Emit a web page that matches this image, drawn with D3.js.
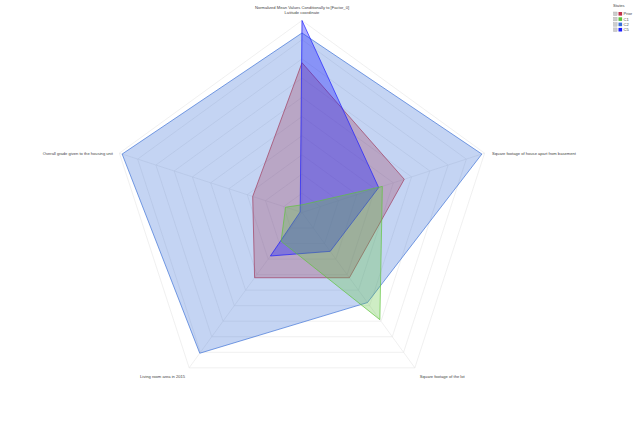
<!DOCTYPE html>
<html lang="en">
<head>
<meta charset="UTF-8">
<title>Radar</title>
<style>
  body { margin: 0; background: #fff; }
  text { font-family: "Liberation Sans", Arial, sans-serif; fill: #444; }
</style>
</head>
<body>
<script src="https://d3js.org/d3.v7.min.js"></script>
<script>
// data
let axes = ["Latitude coordinate", "Square footage of house apart from basement",
            "Square footage of the lot", "Living room area in 2015",
            "Overall grade given to the housing unit"];
let states = ["Prior", "C1", "C2", "C5"];
let prior = [0.78, 0.56, 0.42, 0.42, 0.27];
let c1 = [0.04, 0.44, 0.69, 0.185, 0.09];
let c2 = [0.935, 0.985, 0.58, 0.906, 0.985];
let c5 = [1.0, 0.42, 0.25, 0.28, 0.01];
let colors = ["#a03a5c", "#5ec43a", "#3a6fd6", "#1a1aff"];

let series = [
  { name: "C2", values: c2, color: colors[2], op: 0.3 },
  { name: "Prior", values: prior, color: colors[0], op: 0.3 },
  { name: "C5", values: c5, color: colors[3], op: 0.35 },
  { name: "C1", values: c1, color: colors[1], op: 0.3 }
];

let width = 640, height = 428;
let cx = 302, cy = 212.5, R = 192;
let levels = 10;

let svg = d3.select("body").append("svg")
  .attr("width", width).attr("height", height);

let r = d3.scaleLinear().domain([0, 1]).range([0, R]);
let angle = d3.scaleLinear().domain([0, axes.length]).range([0, 2 * Math.PI]);

function pt(i, v) {
  let a = angle(i) - Math.PI / 2;
  return [cx + r(v) * Math.cos(a), cy + r(v) * Math.sin(a)];
}

let grid = svg.append("g");
for (let l = 1; l <= levels; l++) {
  grid.append("polygon")
    .attr("points", axes.map((d, i) => pt(i, l / levels).join(",")).join(" "))
    .attr("fill", "none")
    .attr("stroke", "#e6e6e6")
    .attr("stroke-width", 0.6);
}
axes.forEach((d, i) => {
  let p = pt(i, 1);
  grid.append("line")
    .attr("x1", cx).attr("y1", cy).attr("x2", p[0]).attr("y2", p[1])
    .attr("stroke", "#e6e6e6").attr("stroke-width", 0.6);
});

let line = d3.line().curve(d3.curveLinearClosed);
svg.selectAll(".area").data(series).enter().append("path")
  .attr("class", "area")
  .attr("d", s => line(s.values.map((v, i) => pt(i, v))))
  .attr("fill", s => s.color)
  .attr("fill-opacity", s => s.op)
  .attr("stroke", s => s.color)
  .attr("stroke-opacity", 0.85)
  .attr("stroke-width", 0.8);

// axis labels
let labelPos = [
  { dx: 0, dy: -6.5, anchor: "middle" },
  { dx: 7.5, dy: 1.5, anchor: "start" },
  { dx: 5, dy: 10, anchor: "start" },
  { dx: -4, dy: 10, anchor: "end" },
  { dx: -6.5, dy: 1.5, anchor: "end" }
];
axes.forEach((d, i) => {
  let p = pt(i, 1);
  svg.append("text")
    .attr("x", p[0] + labelPos[i].dx)
    .attr("y", p[1] + labelPos[i].dy)
    .attr("text-anchor", labelPos[i].anchor)
    .attr("font-size", 4.1)
    .text(d);
});

svg.append("text")
  .attr("x", cx).attr("y", 8.5)
  .attr("text-anchor", "middle")
  .attr("font-size", 4.1)
  .text("Normalized Mean Values Conditionally to [Factor_0]");

// legend
let lg = svg.append("g").attr("transform", "translate(613,0)");
lg.append("text").attr("x", 0).attr("y", 6.5).attr("font-size", 4.1).text("States");
states.forEach((s, i) => {
  let y = 12 + i * 5.3;
  lg.append("rect").attr("x", 0.5).attr("y", y).attr("width", 3.6).attr("height", 3.6)
    .attr("fill", "#ccc").attr("stroke", "#aaa").attr("stroke-width", 0.4);
  lg.append("rect").attr("x", 5.5).attr("y", y).attr("width", 3.6).attr("height", 3.6)
    .attr("fill", i === 0 ? "#c0304a" : colors[i]);
  lg.append("text").attr("x", 10.5).attr("y", y + 3.3).attr("font-size", 4.1).text(s);
});
</script>
</body>
</html>
